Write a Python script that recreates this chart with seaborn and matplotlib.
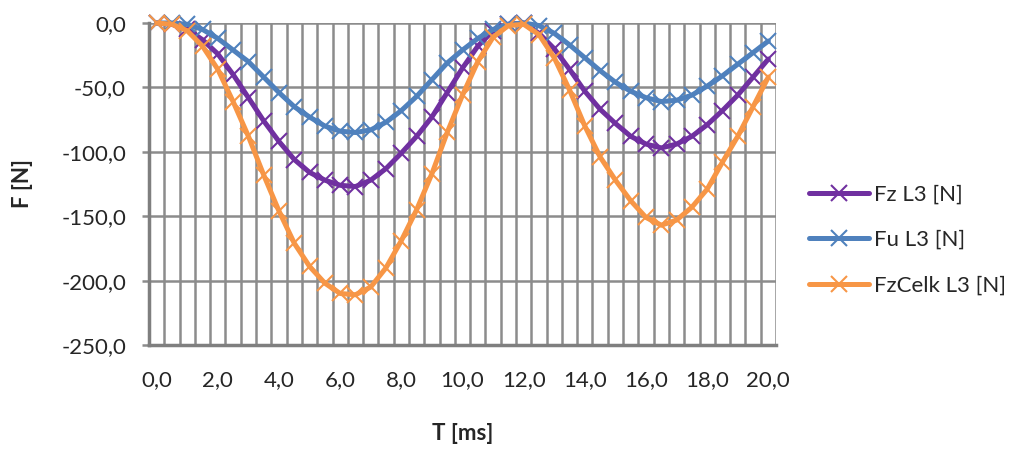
import numpy as np
import pandas as pd
import matplotlib
matplotlib.use("Agg")
import matplotlib.pyplot as plt
import seaborn as sns
from matplotlib.ticker import MultipleLocator, FixedLocator, FuncFormatter

# casove body [ms]
cas = [0.0, 0.5, 1.0, 1.5, 2.0, 2.5, 3.0, 3.5, 4.0, 4.5, 5.0, 5.5, 6.0, 6.5, 7.0, 7.5,
       8.0, 8.5, 9.0, 9.5, 10.0, 10.5, 11.0, 11.5, 12.0, 12.5, 13.0, 13.5, 14.0, 14.5,
       15.0, 15.5, 16.0, 16.5, 17.0, 17.5, 18.0, 18.5, 19.0, 19.5, 20.0]

fz_l3 = [0, -1, -5, -13, -24, -40, -58, -76, -92, -106, -116, -122, -126, -127, -122, -113,
         -101, -88, -73, -54, -35, -18, -6, -1, 0, -8, -20, -36, -53, -67,
         -78, -88, -94, -97, -94, -88, -79, -68, -56, -42, -28]

fu_l3 = [0, 0, -1, -5, -12, -21, -30, -42, -54, -65, -73, -80, -84, -85, -83, -77,
         -68, -57, -44, -31, -21, -12, -5, -1, 0, -2, -8, -17, -27, -37,
         -46, -53, -58, -61, -60, -56, -49, -41, -32, -23, -14]

fzcelk_l3 = [0, -1, -6, -18, -36, -61, -88, -118, -146, -171, -189, -202, -210, -211, -205, -190,
             -169, -145, -117, -85, -56, -30, -11, -2, -1, -9, -27, -52, -80, -104,
             -122, -138, -151, -157, -153, -143, -129, -108, -88, -65, -42]

serie = ["Fz L3 [N]", "Fu L3 [N]", "FzCelk L3 [N]"]
barvy = ["#7030A0", "#4F81BD", "#F79646"]

sns.set_style("white")
plt.rcParams['font.family'] = ['Lato', 'DejaVu Sans']

fig = plt.figure(figsize=(10.17, 4.55), dpi=100)
ax = fig.add_axes([149 / 1017, 1 - 345 / 455, (776 - 149) / 1017, (345 - 23) / 455])

for nazev, hodnoty, barva in zip(serie, [fz_l3, fu_l3, fzcelk_l3], barvy):
    sns.lineplot(x=cas, y=hodnoty, ax=ax, color=barva, linewidth=3.6,
                 marker="x", markersize=11, markeredgewidth=1.5,
                 markeredgecolor=barva, label=nazev, clip_on=False)

ax.set_xlim(-0.25, 20.25)
ax.set_ylim(-250, 0)

# popisky osy x po 2 ms, mrizka mezi kategoriemi
ax.xaxis.set_major_locator(MultipleLocator(2))
ax.xaxis.set_minor_locator(FixedLocator(np.arange(-0.25, 20.3, 0.5)))
ax.yaxis.set_major_locator(MultipleLocator(50))
fmt = FuncFormatter(lambda v, p: f"{v:.1f}".replace(".", ","))
ax.xaxis.set_major_formatter(fmt)
ax.yaxis.set_major_formatter(fmt)

ax.grid(False)
ax.grid(True, which="minor", axis="x", color="#8c8c8c", linewidth=1.8)
ax.grid(True, which="major", axis="y", color="#8c8c8c", linewidth=1.8)

ax.tick_params(axis="x", which="major", length=0, pad=18, labelsize=16)
ax.tick_params(axis="x", which="minor", length=5, width=1.8, color="#8c8c8c", direction="out")
ax.tick_params(axis="y", which="major", length=5, width=1.8, color="#8c8c8c",
               direction="out", pad=11.5, labelsize=16, left=True)

for s in ["top", "right"]:
    ax.spines[s].set_visible(False)
for s in ["left", "bottom"]:
    ax.spines[s].set_color("#7f7f7f")
    ax.spines[s].set_linewidth(2.5)

ax.set_xlabel("T [ms]", fontsize=16, fontweight="bold", labelpad=24)
ax.set_ylabel("F [N]", fontsize=16, fontweight="bold", labelpad=20)

leg = ax.legend(loc="center left", bbox_to_anchor=(800 / 1017, 1 - 240 / 455),
                bbox_transform=fig.transFigure, frameon=False, fontsize=16,
                handlelength=2.7, handletextpad=0.25, labelspacing=1.15, borderaxespad=0)

fig.savefig("out.png", dpi=100)
